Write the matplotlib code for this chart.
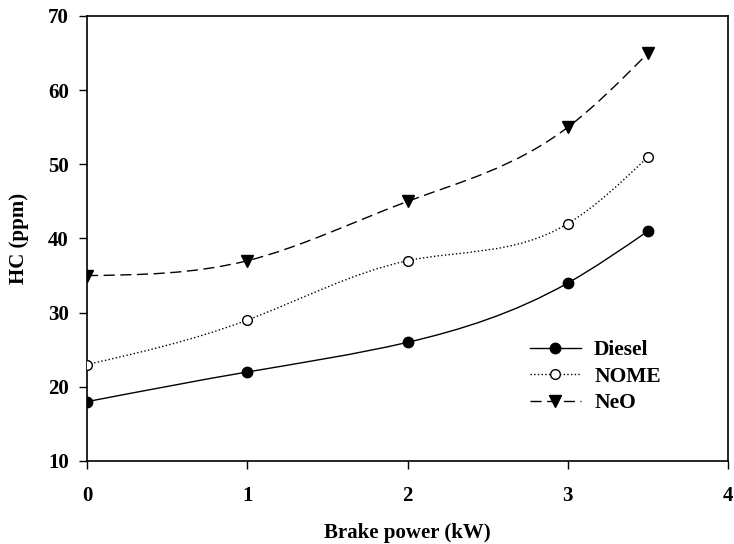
import numpy as np
import matplotlib
matplotlib.use("Agg")
import matplotlib.pyplot as plt
from matplotlib.path import Path
from matplotlib.patches import PathPatch
from matplotlib.lines import Line2D

plt.rcParams["font.family"] = ["Liberation Serif", "DejaVu Serif"]
plt.rcParams["font.weight"] = "bold"

# Brake power (kW)
power = [0, 1, 2, 3, 3.5]

# HC emissions (ppm)
hc_diesel = [18, 22, 26, 34, 41]
hc_nome = [23, 29, 37, 42, 51]
hc_neo = [35, 37, 45, 55, 65]


def spline_path(x, y):
    """Natural cubic spline through the points, as a bezier Path."""
    x = np.asarray(x, float)
    y = np.asarray(y, float)
    n = len(x)
    h = np.diff(x)
    A = np.zeros((n, n))
    b = np.zeros(n)
    A[0, 0] = A[-1, -1] = 1
    for i in range(1, n - 1):
        A[i, i - 1] = h[i - 1]
        A[i, i] = 2 * (h[i - 1] + h[i])
        A[i, i + 1] = h[i]
        b[i] = 6 * ((y[i + 1] - y[i]) / h[i] - (y[i] - y[i - 1]) / h[i - 1])
    M = np.linalg.solve(A, b)
    slope = np.zeros(n)
    for i in range(n - 1):
        slope[i] = (y[i + 1] - y[i]) / h[i] - h[i] * (2 * M[i] + M[i + 1]) / 6
    slope[-1] = (y[-1] - y[-2]) / h[-1] + h[-1] * (M[-2] + 2 * M[-1]) / 6

    verts = [(x[0], y[0])]
    codes = [Path.MOVETO]
    for i in range(n - 1):
        d = h[i] / 3
        verts += [(x[i] + d, y[i] + d * slope[i]),
                  (x[i + 1] - d, y[i + 1] - d * slope[i + 1]),
                  (x[i + 1], y[i + 1])]
        codes += [Path.CURVE4] * 3
    return Path(verts, codes)


series = [
    ("Diesel", hc_diesel, "-", dict(marker="o", mfc="black", ms=7.5)),
    ("NOME", hc_nome, ":", dict(marker="o", mfc="white", ms=7)),
    ("NeO", hc_neo, (0, (8, 4)), dict(marker="v", mfc="black", ms=8.5)),
]

fig = plt.figure(figsize=(7.34, 5.44), dpi=100)
ax = fig.add_axes([0.1185, 0.1526, 0.8735, 0.818])

handles = []
for name, vals, ls, mk in series:
    ax.add_patch(PathPatch(spline_path(power, vals), fill=False, lw=1.0,
                           ls=ls, edgecolor="black", zorder=2))
    ax.plot(power, vals, ls="none", color="black", mec="black", mew=1.0,
            zorder=3, **mk)
    handles.append(Line2D([], [], color="black", ls=ls, lw=1.0, mec="black",
                          mew=1.0, **mk))

ax.set_xlim(0, 4)
ax.set_ylim(10, 70)
ax.set_xticks([0, 1, 2, 3, 4])
ax.set_yticks(range(10, 71, 10))
ax.tick_params(direction="out", length=6, width=1, labelsize=15,
               top=False, right=False)
ax.tick_params(axis="x", pad=12)
ax.tick_params(axis="y", pad=7)
for lab in ax.get_xticklabels() + ax.get_yticklabels():
    lab.set_fontweight("bold")
for sp in ax.spines.values():
    sp.set_linewidth(1.2)

ax.set_xlabel("Brake power (kW)", fontsize=15, fontweight="bold", labelpad=12)
ax.set_ylabel("HC (ppm)", fontsize=15, fontweight="bold", labelpad=14)

ax.legend(handles, [s[0] for s in series], loc="upper left",
          bbox_to_anchor=(0.66, 0.315), frameon=False, handlelength=2.4,
          handletextpad=0.6, labelspacing=0.3,
          prop={"family": "Liberation Serif", "weight": "bold", "size": 15.5})

fig.savefig("out.png", dpi=100)
